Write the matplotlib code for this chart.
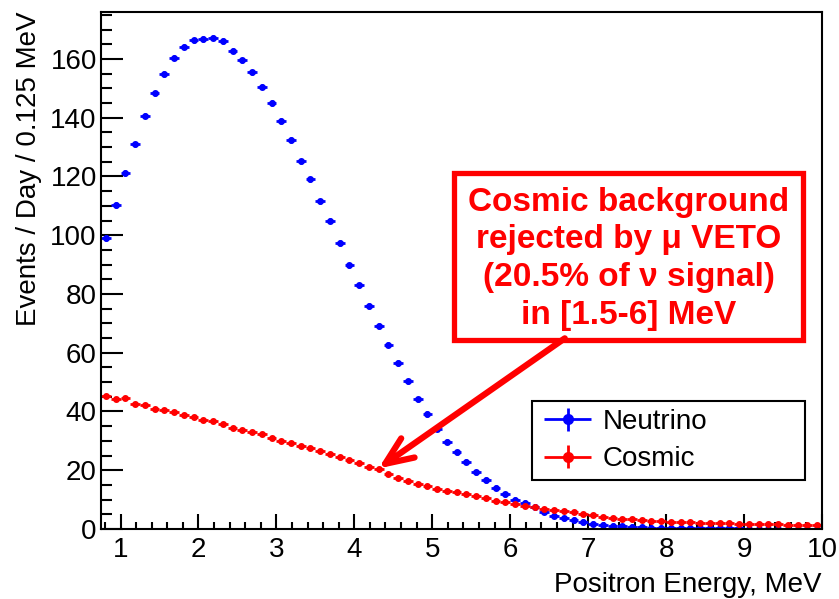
import matplotlib

matplotlib.use("Agg")

import matplotlib.pyplot as plt
import numpy as np
from matplotlib.container import ErrorbarContainer
from matplotlib.legend_handler import HandlerErrorbar
from matplotlib.patches import FancyArrowPatch, Rectangle
from matplotlib.ticker import MultipleLocator

plt.rcParams["font.family"] = ["Liberation Sans", "DejaVu Sans"]

# histogram binning (MeV)
E_MIN = 0.75
E_MAX = 10.0
BIN_WIDTH = 0.125

# events / day / bin
NEUTRINO = [
    99.1, 110.3, 121.2, 131.0, 140.7, 148.3, 154.9, 160.5, 164.2, 166.4,
    166.8, 167.2, 166.1, 162.8, 159.5, 155.5, 150.6, 145.0, 138.9, 132.4,
    125.2, 119.0, 111.5, 104.9, 97.4, 89.8, 82.9, 75.9, 69.1, 62.7,
    56.5, 50.3, 44.1, 39.1, 34.2, 29.7, 26.1, 22.9, 19.3, 16.7,
    14.1, 11.8, 10.0, 8.8, 7.6, 5.9, 4.5, 3.6, 3.1, 2.4,
    1.8, 1.4, 1.1, 0.9, 0.7, 0.6, 0.5, 0.45, 0.4, 0.35,
    0.3, 0.28, 0.25, 0.22, 0.2, 0.18, 0.16, 0.14, 0.12, 0.11,
    0.1, 0.09, 0.08, 0.07,
]
COSMIC = [
    45.4, 44.2, 44.7, 42.5, 42.2, 40.9, 40.6, 39.8, 38.7, 38.0,
    37.0, 36.6, 35.6, 34.4, 33.7, 32.9, 32.2, 31.1, 30.0, 29.4,
    28.2, 27.4, 26.4, 25.4, 24.6, 23.5, 22.4, 21.0, 20.3, 18.6,
    17.2, 16.3, 15.4, 14.6, 13.7, 12.9, 12.5, 11.9, 11.3, 10.4,
    9.6, 9.1, 8.5, 7.9, 7.5, 6.9, 6.5, 6.0, 5.7, 5.1,
    4.7, 4.2, 3.8, 3.5, 3.3, 3.0, 2.8, 2.6, 2.5, 2.4,
    2.3, 2.2, 2.1, 2.0, 1.9, 1.8, 1.8, 1.7, 1.6, 1.6,
    1.5, 1.5, 1.4, 1.4,
]
NEUTRINO_ERR = 0.9
COSMIC_ERR = 0.5

LABELS = ["Neutrino", "Cosmic"]
NOTE_LINES = [
    "Cosmic background",
    "rejected by \u03bc VETO",
    "(20.5% of \u03bd signal)",
    "in [1.5-6] MeV",
]

centers = E_MIN + BIN_WIDTH / 2 + BIN_WIDTH * np.arange(len(NEUTRINO))

fig = plt.figure(figsize=(8.39, 5.99), dpi=100)
ax = fig.add_axes([0.1204, 0.1169, 0.8593, 0.8631])

eb_nu = ax.errorbar(centers, NEUTRINO, xerr=BIN_WIDTH / 2, yerr=NEUTRINO_ERR,
                    fmt="o", ms=4, color="#0000ff", elinewidth=2, capsize=0)
eb_cos = ax.errorbar(centers, COSMIC, xerr=BIN_WIDTH / 2, yerr=COSMIC_ERR,
                     fmt="o", ms=4, color="#ff0000", elinewidth=2, capsize=0)

ax.set_xlim(E_MIN, E_MAX)
ax.set_ylim(0, 176)
ax.xaxis.set_major_locator(MultipleLocator(1))
ax.xaxis.set_minor_locator(MultipleLocator(0.2))
ax.yaxis.set_major_locator(MultipleLocator(20))
ax.yaxis.set_minor_locator(MultipleLocator(5))
ax.tick_params(which="both", direction="in", top=False, right=False,
               width=1.5, labelsize=20)
ax.tick_params(axis="x", which="major", length=10.8, pad=6)
ax.tick_params(axis="x", which="minor", length=5.4)
ax.tick_params(axis="y", which="major", length=15.8, pad=3)
ax.tick_params(axis="y", which="minor", length=7.9)
for spine in ax.spines.values():
    spine.set_linewidth(1.5)

fig.text(822 / 839, 1 - 585 / 599, "Positron Energy, MeV", fontsize=20,
         ha="right", va="center")
fig.text(29 / 839, 1 - 12 / 599, "Events / Day / 0.125 MeV", fontsize=20,
         rotation=90, ha="center", va="top")

# annotation box + arrow
ax.add_patch(Rectangle((5.285, 64.3), 4.47, 56.8, fill=False, edgecolor="#ff0000",
                       lw=3.8, clip_on=False, zorder=5))
ax.text(7.52, 92.0, "\n".join(NOTE_LINES), color="#ff0000", fontsize=24,
        fontweight="bold", ha="center", va="center", multialignment="center",
        linespacing=1.28, zorder=6)
ax.add_patch(FancyArrowPatch((6.70, 64.9), (4.31, 20.6),
                             arrowstyle="->,head_length=1.0,head_width=0.42",
                             mutation_scale=20, lw=4.5, color="#ff0000",
                             shrinkA=0, shrinkB=0, zorder=6))

leg = ax.legend([eb_nu, eb_cos], LABELS, loc="lower left",
                bbox_to_anchor=(532 / 839, 1 - 480 / 599, 273 / 839, 79 / 599),
                bbox_transform=fig.transFigure, mode="expand", borderaxespad=0,
                fancybox=False, edgecolor="black", framealpha=1, fontsize=20,
                handlelength=2.0, handletextpad=0.25, borderpad=0.28,
                labelspacing=0.4, markerscale=1.75,
                handler_map={ErrorbarContainer: HandlerErrorbar(xerr_size=0.86, yerr_size=0.42)})
leg.get_frame().set_linewidth(1.5)

fig.savefig("out.png", dpi=100)
